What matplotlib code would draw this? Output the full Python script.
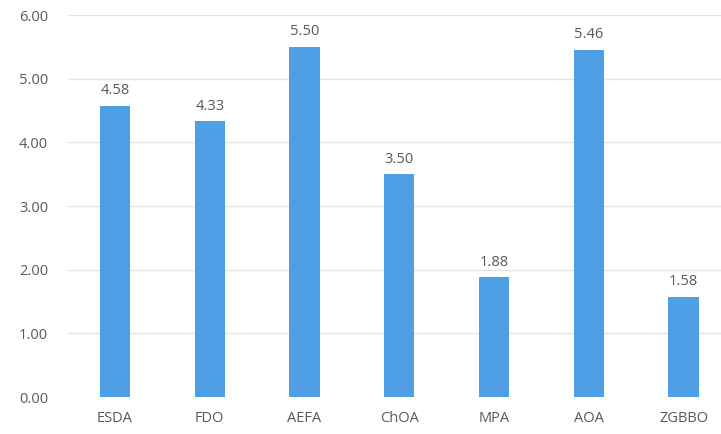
import matplotlib as mpl
import matplotlib.pyplot as plt
import numpy as np

mpl.rcParams['font.family'] = ['Open Sans', 'DejaVu Sans']

algorithms = ['ESDA', 'FDO', 'AEFA', 'ChOA', 'MPA', 'AOA', 'ZGBBO']
values = [4.58, 4.33, 5.50, 3.50, 1.88, 5.46, 1.58]

bar_color = '#4f9fe6'
text_color = '#595959'
grid_color = '#e4e4e4'

fig = plt.figure(figsize=(7.21, 4.34), dpi=100)
# plot area runs a little past the right edge, as in the original crop
ax = fig.add_axes([0.0938, 0.085, 0.920, 0.880])

x = np.arange(len(algorithms))
bars = ax.bar(x, values, width=0.32, color=bar_color, zorder=3)
for xi, v in zip(x, values):
    ax.text(xi, v + 0.12, f'{v:.2f}', ha='center', va='bottom',
            fontsize=10.5, color=text_color)

ax.set_xlim(-0.5, len(algorithms) - 0.5)
ax.set_ylim(0, 6)
ax.set_yticks(np.arange(0, 7, 1))
ax.set_yticklabels([f'{t:.2f}' for t in np.arange(0, 7, 1)])
ax.set_xticks(x)
ax.set_xticklabels(algorithms)
ax.yaxis.grid(True, color=grid_color, linewidth=1.0, zorder=0)
ax.tick_params(axis='both', length=0, labelsize=10.5, labelcolor=text_color)
ax.tick_params(axis='x', pad=10)
ax.tick_params(axis='y', pad=14)
for s in ax.spines.values():
    s.set_visible(False)

plt.savefig('out.png', dpi=100)
